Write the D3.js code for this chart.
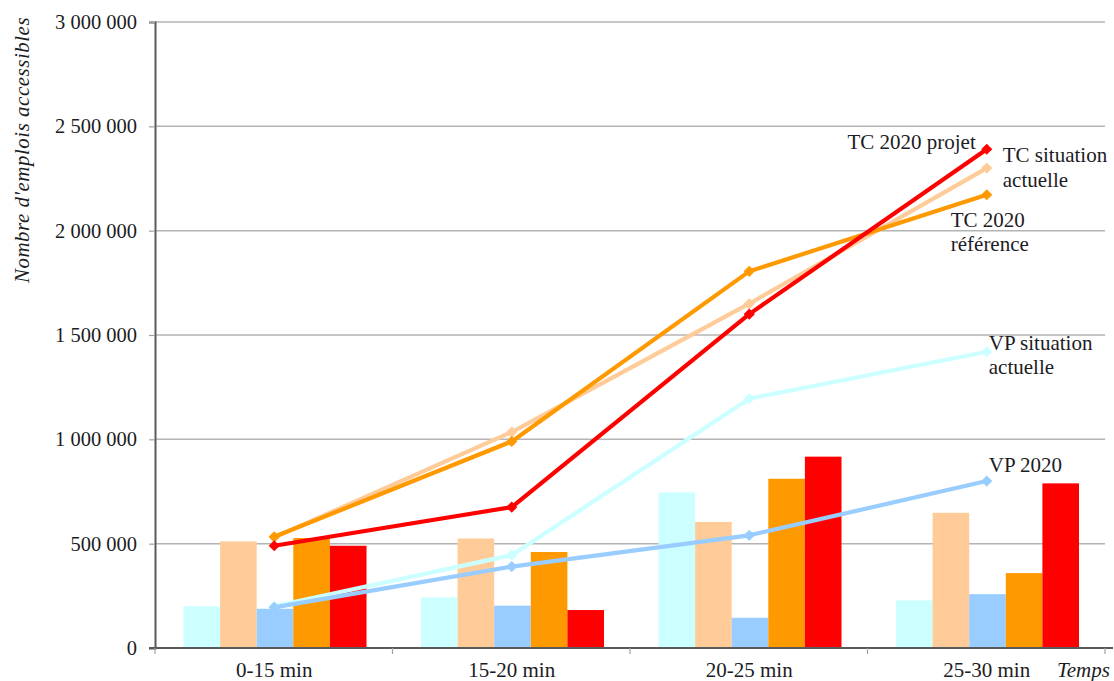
<!DOCTYPE html>
<html>
<head>
<meta charset="utf-8">
<script src="https://cdn.jsdelivr.net/npm/d3@7"></script>
<style>
  html, body { margin: 0; padding: 0; background: #fff; }
  svg text { font-family: 'Liberation Serif', 'Times New Roman', serif; fill: #1c1c24; }
</style>
</head>
<body>
<div id="chart"></div>
<script>
// categories (time bands)
const categories = ['0-15 min', '15-20 min', '20-25 min', '25-30 min'];

// bar series (one per mode / scenario)
const barVpActuelle = [200000, 243000, 746000, 228000];
const barTcActuelle = [511000, 525000, 604000, 648000];
const barVp2020 = [188000, 203000, 145000, 258000];
const barTcReference = [527000, 460000, 811000, 359000];
const barTcProjet = [490000, 182000, 917000, 789000];

// cumulative line series
const lineVpActuelle = [200000, 445000, 1195000, 1420000];
const lineTcActuelle = [530000, 1035000, 1650000, 2300000];
const lineVp2020 = [195000, 390000, 540000, 800000];
const lineTcReference = [533000, 990000, 1805000, 2172000];
const lineTcProjet = [490000, 675000, 1600000, 2390000];

const yTicks = [0, 500000, 1000000, 1500000, 2000000, 2500000, 3000000];

const series = [
    { key: 'vpActuelle', color: '#ccffff', bars: barVpActuelle, line: lineVpActuelle },
    { key: 'tcActuelle', color: '#ffcc99', bars: barTcActuelle, line: lineTcActuelle },
    { key: 'vp2020', color: '#99ccff', bars: barVp2020, line: lineVp2020 },
    { key: 'tcReference', color: '#ff9900', bars: barTcReference, line: lineTcReference },
    { key: 'tcProjet', color: '#ff0000', bars: barTcProjet, line: lineTcProjet }
];

// end-of-line labels, offsets from the last marker
const endLabels = [
    { key: 'tcProjet', lines: ['TC 2020 projet'], dx: -11, dy: 0, anchor: 'end' },
    { key: 'tcActuelle', lines: ['TC situation', 'actuelle'], dx: 16, dy: -6, anchor: 'start' },
    { key: 'tcReference', lines: ['TC 2020', 'référence'], dx: -36, dy: 32, anchor: 'start' },
    { key: 'vpActuelle', lines: ['VP situation', 'actuelle'], dx: 2, dy: -2, anchor: 'start' },
    { key: 'vp2020', lines: ['VP 2020'], dx: 2, dy: -9.5, anchor: 'start' }
];

const W = 1114, H = 681;
const plot = { left: 155, right: 1105, top: 22, bottom: 648 };

const svg = d3.select('#chart').append('svg')
    .attr('width', W)
    .attr('height', H);

const x0 = d3.scaleBand().domain(categories).range([plot.left, plot.right]);
const x1 = d3.scaleBand().domain(series.map(s => s.key)).range([28.5, 211.5]);
const y = d3.scaleLinear().domain([0, 3000000]).range([plot.bottom, plot.top]);
const xc = c => x0(c) + x0.bandwidth() / 2 + 0.5;

const fmt = v => d3.format(',')(v).replace(/,/g, ' ');

// gridlines
svg.append('g')
    .selectAll('line')
    .data(yTicks.filter(t => t > 0))
    .join('line')
    .attr('x1', plot.left)
    .attr('x2', plot.right)
    .attr('y1', d => y(d))
    .attr('y2', d => y(d))
    .attr('stroke', '#b4b4b4')
    .attr('stroke-width', 1.5);

// y axis
const yAxis = svg.append('g')
    .attr('transform', `translate(${plot.left},0)`)
    .call(d3.axisLeft(y).tickValues(yTicks).tickFormat(fmt).tickSize(6).tickPadding(12));
yAxis.select('.domain').attr('stroke', '#5a5a5a').attr('stroke-width', 2);
yAxis.selectAll('.tick line').attr('stroke', '#a0a0a0').attr('stroke-width', 1.2);
yAxis.selectAll('.tick text')
    .style('font-size', '20.5px')
    .style('font-family', "'Liberation Serif', serif")
    .attr('fill', '#1c1c24');

// bars
const groups = svg.append('g')
    .selectAll('g')
    .data(series)
    .join('g')
    .attr('fill', d => d.color);

groups.selectAll('rect')
    .data(s => s.bars.map((v, i) => ({ key: s.key, cat: categories[i], v })))
    .join('rect')
    .attr('x', d => x0(d.cat) + x1(d.key))
    .attr('width', x1.bandwidth())
    .attr('y', d => y(d.v))
    .attr('height', d => y(0) - y(d.v));

// x axis baseline and category ticks
svg.append('line')
    .attr('x1', plot.left - 6)
    .attr('x2', plot.right + 8)
    .attr('y1', plot.bottom)
    .attr('y2', plot.bottom)
    .attr('stroke', '#5a5a5a')
    .attr('stroke-width', 2);

svg.append('g')
    .selectAll('line')
    .data(categories.map(c => x0(c)).concat([plot.right]))
    .join('line')
    .attr('x1', d => d)
    .attr('x2', d => d)
    .attr('y1', plot.bottom)
    .attr('y2', plot.bottom + 6)
    .attr('stroke', '#a0a0a0')
    .attr('stroke-width', 1.2);

svg.append('g')
    .selectAll('text')
    .data(categories)
    .join('text')
    .attr('x', d => xc(d))
    .attr('y', 677)
    .attr('text-anchor', 'middle')
    .style('font-size', '21px')
    .text(d => d);

svg.append('text')
    .attr('x', 1057)
    .attr('y', 677)
    .style('font-size', '21px')
    .style('font-style', 'italic')
    .text('Temps');

svg.append('text')
    .attr('transform', `translate(29,150) rotate(-90)`)
    .attr('text-anchor', 'middle')
    .style('font-size', '21px')
    .style('font-style', 'italic')
    .style('letter-spacing', '0.5px')
    .text("Nombre d'emplois accessibles");

// lines with diamond markers (squares turned 45 degrees)
const lineGen = d3.line()
    .x((v, i) => xc(categories[i]))
    .y(v => y(v));
const diamond = d3.symbol().type(d3.symbolSquare).size(62);

series.forEach(s => {
    const g = svg.append('g');
    g.append('path')
        .datum(s.line)
        .attr('fill', 'none')
        .attr('stroke', s.color)
        .attr('stroke-width', 4.2)
        .attr('stroke-linejoin', 'round')
        .attr('d', lineGen);
    g.selectAll('path.marker')
        .data(s.line)
        .join('path')
        .attr('class', 'marker')
        .attr('fill', s.color)
        .attr('transform', (v, i) => `translate(${xc(categories[i])},${y(v)}) rotate(45)`)
        .attr('d', diamond);
});

// end labels
endLabels.forEach(l => {
    const s = series.find(d => d.key === l.key);
    const last = s.line.length - 1;
    const t = svg.append('text')
        .attr('x', xc(categories[last]) + l.dx)
        .attr('y', y(s.line[last]) + l.dy)
        .attr('text-anchor', l.anchor)
        .style('font-size', '21px');
    l.lines.forEach((ln, i) => {
        t.append('tspan')
            .attr('x', xc(categories[last]) + l.dx)
            .attr('dy', i === 0 ? 0 : 24.5)
            .text(ln);
    });
});
</script>
</body>
</html>
